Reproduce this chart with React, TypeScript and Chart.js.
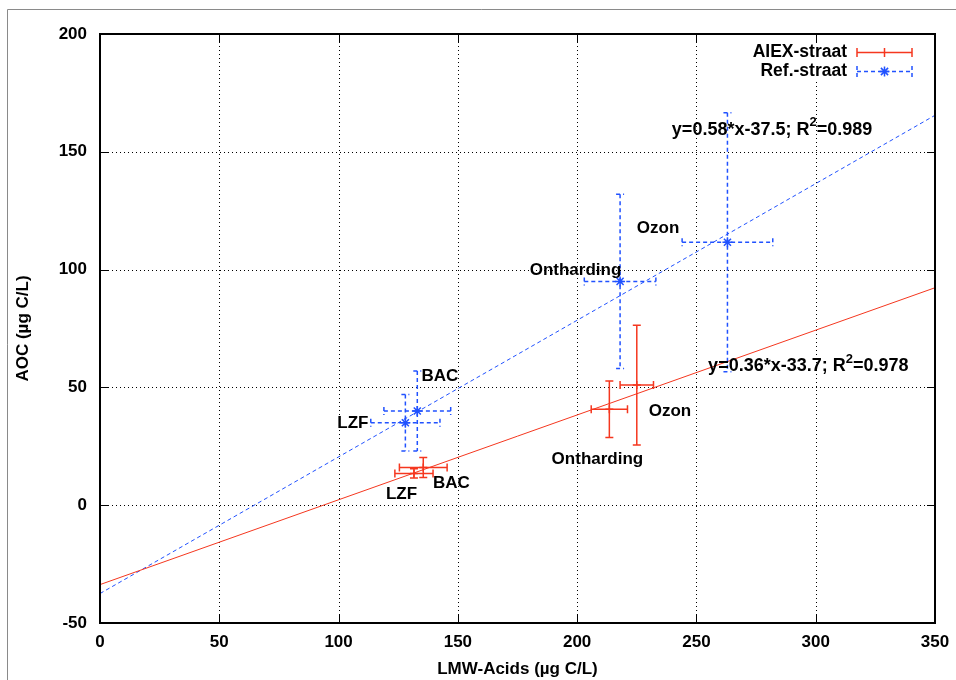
import React, { useEffect, useRef } from "react";
import { Chart, registerables } from "chart.js";
Chart.register(...registerables);

// ---- data (µg C/L) ----
const stageNames = ["LZF", "BAC", "Ontharding", "Ozon"];

const aiexX = [131.6, 135.5, 213.5, 225];
const aiexY = [13.5, 16, 40.7, 51];
const aiexXErr = [8, 10, 7.6, 7];
const aiexYErr = [2, 4.2, 12, 25.4];

const refX = [128, 133, 218, 263];
const refY = [35, 40, 95, 111.6];
const refXErr = [14.5, 14, 15, 19];
const refYErr = [12, 17, 37, 55];

const aiexFitX = [0, 350];
const aiexFitY = [-33.7, 92.3];
const refFitX = [0, 350];
const refFitY = [-37.5, 165.5];

// label anchors (data units)
const aiexLabelX = [126.4, 147.3, 208.5, 238.9];
const aiexLabelY = [4.8, 9.4, 19.6, 39.7];
const refLabelX = [106, 142.5, 199.3, 233.9];
const refLabelY = [34.7, 54.5, 99.8, 117.7];

const aiexEq = ["y=0.36*x-33.7; R", "2", "=0.978"];
const refEq = ["y=0.58*x-37.5; R", "2", "=0.989"];
const aiexEqAt = [254.9, 59.1];
const refEqAt = [239.7, 159.3];

const xTicks = [0, 50, 100, 150, 200, 250, 300, 350];
const yTicks = [-50, 0, 50, 100, 150, 200];

const seriesNames = ["AIEX-straat", "Ref.-straat"];

const FONT = "'Liberation Sans', Arial, Helvetica, sans-serif";
const RED = "#f5371f";
const BLUE = "#2152ff";

export default function App() {
  const ref = useRef<HTMLCanvasElement>(null);

  useEffect(() => {
    const canvas = ref.current;
    if (!canvas) return;

    const drawEq = (ctx: CanvasRenderingContext2D, parts: string[], x: number, y: number) => {
      ctx.textAlign = "left";
      ctx.textBaseline = "middle";
      ctx.font = `bold 18px ${FONT}`;
      ctx.fillText(parts[0], x, y);
      let cx = x + ctx.measureText(parts[0]).width;
      ctx.font = `bold 13px ${FONT}`;
      ctx.fillText(parts[1], cx, y - 7);
      cx += ctx.measureText(parts[1]).width;
      ctx.font = `bold 18px ${FONT}`;
      ctx.fillText(parts[2], cx, y);
    };

    const drawStar = (ctx: CanvasRenderingContext2D, x: number, y: number, r: number) => {
      ctx.beginPath();
      ctx.moveTo(x - r, y); ctx.lineTo(x + r, y);
      ctx.moveTo(x, y - r); ctx.lineTo(x, y + r);
      const d = r * 0.72;
      ctx.moveTo(x - d, y - d); ctx.lineTo(x + d, y + d);
      ctx.moveTo(x - d, y + d); ctx.lineTo(x + d, y - d);
      ctx.stroke();
    };

    const decor = {
      id: "decor",
      beforeDraw(chart: any) {
        const ctx = chart.ctx as CanvasRenderingContext2D;
        ctx.save();
        ctx.fillStyle = "#fff";
        ctx.fillRect(0, 0, chart.width, chart.height);
        ctx.strokeStyle = "#8a8a8a";
        ctx.lineWidth = 1;
        ctx.beginPath();
        ctx.moveTo(7.5, chart.height);
        ctx.lineTo(7.5, 9.5);
        ctx.lineTo(chart.width, 9.5);
        ctx.stroke();
        ctx.restore();
      },
      beforeDatasetsDraw(chart: any) {
        const ctx = chart.ctx as CanvasRenderingContext2D;
        const { left, right, top, bottom } = chart.chartArea;
        const xs = chart.scales.x, ys = chart.scales.y;
        ctx.save();
        ctx.strokeStyle = "#000";
        ctx.lineWidth = 1;
        ctx.setLineDash([1, 3]);
        ctx.beginPath();
        xTicks.slice(1, -1).forEach((v) => {
          const px = Math.round(xs.getPixelForValue(v)) + 0.5;
          ctx.moveTo(px, top); ctx.lineTo(px, bottom);
        });
        yTicks.slice(1, -1).forEach((v) => {
          const py = Math.round(ys.getPixelForValue(v)) + 0.5;
          ctx.moveTo(left, py); ctx.lineTo(right, py);
        });
        ctx.stroke();
        ctx.restore();
      },
      afterDatasetsDraw(chart: any) {
        const ctx = chart.ctx as CanvasRenderingContext2D;
        const { left, right, top, bottom } = chart.chartArea;
        const xs = chart.scales.x, ys = chart.scales.y;
        const cap = 4;

        const errBars = (X: number[], Y: number[], XE: number[], YE: number[], color: string, dash: number[]) => {
          ctx.save();
          ctx.strokeStyle = color;
          ctx.lineWidth = 1.5;
          ctx.setLineDash(dash);
          for (let i = 0; i < X.length; i++) {
            const px = xs.getPixelForValue(X[i]);
            const py = ys.getPixelForValue(Y[i]);
            const x1 = xs.getPixelForValue(X[i] - XE[i]);
            const x2 = xs.getPixelForValue(X[i] + XE[i]);
            const y1 = ys.getPixelForValue(Y[i] + YE[i]);
            const y2 = ys.getPixelForValue(Y[i] - YE[i]);
            ctx.beginPath();
            ctx.moveTo(x1, py); ctx.lineTo(x2, py);
            ctx.moveTo(x1, py - cap); ctx.lineTo(x1, py + cap);
            ctx.moveTo(x2, py - cap); ctx.lineTo(x2, py + cap);
            ctx.moveTo(px, y1); ctx.lineTo(px, y2);
            ctx.moveTo(px - cap, y1); ctx.lineTo(px + cap, y1);
            ctx.moveTo(px - cap, y2); ctx.lineTo(px + cap, y2);
            ctx.stroke();
          }
          ctx.restore();
        };
        errBars(aiexX, aiexY, aiexXErr, aiexYErr, RED, []);
        errBars(refX, refY, refXErr, refYErr, BLUE, [4, 3]);

        // border + inward ticks
        ctx.save();
        ctx.strokeStyle = "#000";
        ctx.lineWidth = 2;
        ctx.strokeRect(left, top, right - left, bottom - top);
        ctx.lineWidth = 1;
        ctx.beginPath();
        xTicks.forEach((v) => {
          const px = Math.round(xs.getPixelForValue(v)) + 0.5;
          ctx.moveTo(px, bottom); ctx.lineTo(px, bottom - 8);
          ctx.moveTo(px, top); ctx.lineTo(px, top + 8);
        });
        yTicks.forEach((v) => {
          const py = Math.round(ys.getPixelForValue(v)) + 0.5;
          ctx.moveTo(left, py); ctx.lineTo(left + 8, py);
          ctx.moveTo(right, py); ctx.lineTo(right - 8, py);
        });
        ctx.stroke();

        // point labels
        ctx.fillStyle = "#000";
        ctx.font = `bold 17px ${FONT}`;
        ctx.textAlign = "center";
        ctx.textBaseline = "middle";
        stageNames.forEach((n, i) => {
          ctx.fillText(n, xs.getPixelForValue(aiexLabelX[i]), ys.getPixelForValue(aiexLabelY[i]));
          ctx.fillText(n, xs.getPixelForValue(refLabelX[i]), ys.getPixelForValue(refLabelY[i]));
        });
        drawEq(ctx, refEq, xs.getPixelForValue(refEqAt[0]), ys.getPixelForValue(refEqAt[1]));
        drawEq(ctx, aiexEq, xs.getPixelForValue(aiexEqAt[0]), ys.getPixelForValue(aiexEqAt[1]));

        // legend
        ctx.fillStyle = "#fff";
        ctx.fillRect(740, 43, 185, 38);
        ctx.fillStyle = "#000";
        ctx.font = `bold 17.5px ${FONT}`;
        ctx.textAlign = "right";
        ctx.textBaseline = "middle";
        ctx.fillText(seriesNames[0], 847, 52);
        ctx.fillText(seriesNames[1], 847, 71);
        const lx1 = 857, lx2 = 912, lxc = 884.5;
        ctx.lineWidth = 1.5;
        ctx.strokeStyle = RED;
        ctx.setLineDash([]);
        ctx.beginPath();
        ctx.moveTo(lx1, 52.5); ctx.lineTo(lx2, 52.5);
        ctx.moveTo(lx1, 48); ctx.lineTo(lx1, 57);
        ctx.moveTo(lx2, 48); ctx.lineTo(lx2, 57);
        ctx.moveTo(lxc, 48); ctx.lineTo(lxc, 57);
        ctx.stroke();
        ctx.strokeStyle = BLUE;
        ctx.setLineDash([4, 3]);
        ctx.beginPath();
        ctx.moveTo(lx1, 71.5); ctx.lineTo(lx2, 71.5);
        ctx.moveTo(lx1, 66); ctx.lineTo(lx1, 77);
        ctx.moveTo(lx2, 66); ctx.lineTo(lx2, 77);
        ctx.stroke();
        ctx.setLineDash([]);
        drawStar(ctx, lxc, 71.5, 5);
        ctx.restore();
      },
    };

    const chart = new Chart(canvas, {
      type: "scatter",
      data: {
        datasets: [
          {
            label: seriesNames[0],
            data: aiexX.map((x, i) => ({ x, y: aiexY[i] })),
            pointStyle: "cross",
            pointRadius: 4,
            borderColor: RED,
            backgroundColor: RED,
            borderWidth: 1.5,
            showLine: false,
          },
          {
            label: seriesNames[1],
            data: refX.map((x, i) => ({ x, y: refY[i] })),
            pointStyle: "star",
            pointRadius: 5,
            borderColor: BLUE,
            backgroundColor: BLUE,
            borderWidth: 1.5,
            showLine: false,
          },
          {
            label: "fit AIEX",
            type: "line",
            data: aiexFitX.map((x, i) => ({ x, y: aiexFitY[i] })),
            borderColor: RED,
            borderWidth: 1,
            pointRadius: 0,
            fill: false,
          },
          {
            label: "fit Ref",
            type: "line",
            data: refFitX.map((x, i) => ({ x, y: refFitY[i] })),
            borderColor: BLUE,
            borderWidth: 1,
            borderDash: [4, 3],
            pointRadius: 0,
            fill: false,
          },
        ] as any,
      },
      plugins: [decor],
      options: {
        animation: false,
        responsive: false,
        devicePixelRatio: 1,
        layout: { padding: { left: 0, top: 34, right: 21, bottom: 0 } },
        plugins: { legend: { display: false }, tooltip: { enabled: false } },
        scales: {
          x: {
            type: "linear",
            min: 0,
            max: 350,
            grid: { display: false },
            border: { display: false },
            ticks: {
              stepSize: 50,
              color: "#000",
              padding: 1,
              autoSkip: false,
              maxRotation: 0,
              font: { family: FONT, size: 17, weight: "bold" },
            },
            title: {
              display: true,
              text: "LMW-Acids (µg C/L)",
              color: "#000",
              padding: { top: 0, bottom: 0 },
              font: { family: FONT, size: 17, weight: "bold" },
            },
            afterFit: (s: any) => {
              s.height = 57;
              s.paddingLeft = 0;
              s.paddingRight = 0;
            },
          },
          y: {
            type: "linear",
            min: -50,
            max: 200,
            grid: { display: false },
            border: { display: false },
            ticks: {
              stepSize: 50,
              color: "#000",
              padding: 5,
              font: { family: FONT, size: 17, weight: "bold" },
            },
            title: {
              display: true,
              text: "AOC (µg C/L)",
              color: "#000",
              padding: { top: 13, bottom: 0 },
              font: { family: FONT, size: 17, weight: "bold" },
            },
            afterFit: (s: any) => {
              s.width = 100;
              s.paddingTop = 0;
              s.paddingBottom = 0;
            },
          },
        },
      } as any,
    });
    return () => chart.destroy();
  }, []);

  return (
    <div style={{ position: "fixed", left: 0, top: 0, width: 956, height: 680, background: "#fff" }}>
      <canvas ref={ref} width={956} height={680} style={{ display: "block", width: 956, height: 680 }} />
    </div>
  );
}
